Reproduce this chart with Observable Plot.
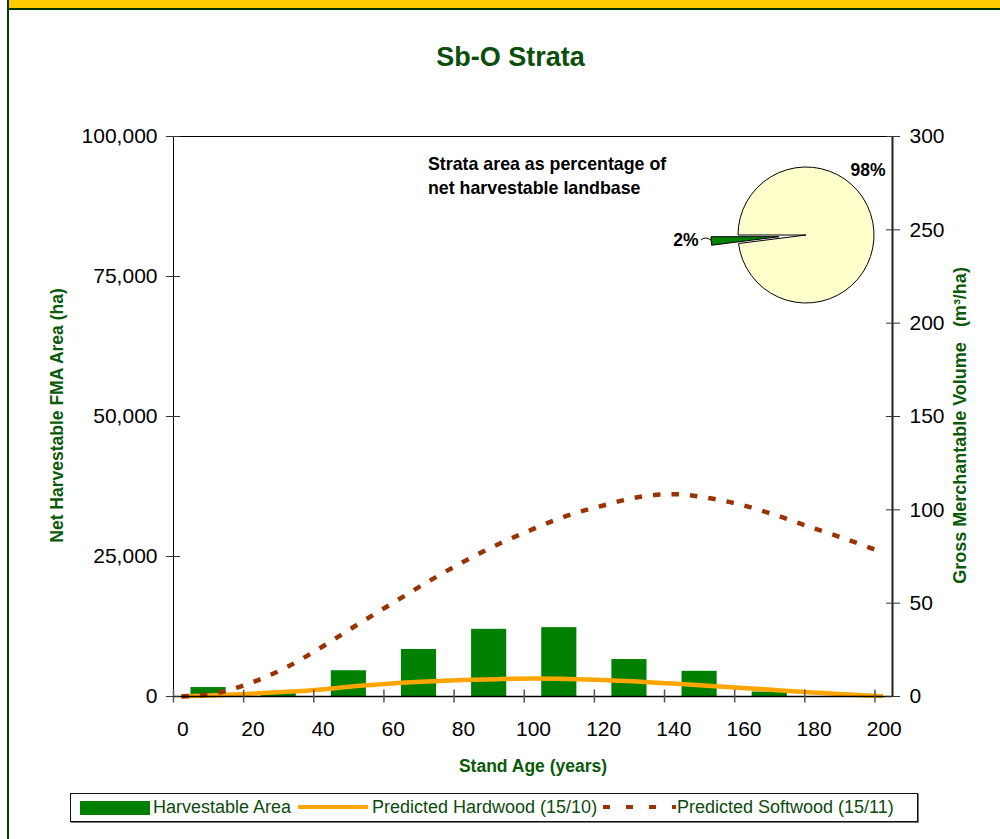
<!DOCTYPE html>
<html>
<head>
<meta charset="utf-8">
<script src="https://cdn.jsdelivr.net/npm/d3@7"></script>
<script src="https://cdn.jsdelivr.net/npm/@observablehq/plot@0.6"></script>
<style>
  html, body { margin:0; padding:0; background:#fff; }
  #page { position:relative; width:1000px; height:839px; overflow:hidden; font-family:"Liberation Sans", Arial, Helvetica, sans-serif; }
  #page > svg { position:absolute; left:0; top:0; }
  .abs { position:absolute; }
  #bar-top { left:9px; top:0; width:991px; height:8px; background:#FFCC00; }
  #line-top { left:7px; top:8px; width:993px; height:2px; background:#003300; }
  #line-left { left:7px; top:0; width:2px; height:839px; background:#0a3a0a; }
  #title { left:0; top:44px; width:1021px; text-align:center; font-size:27px; line-height:27px; font-weight:bold; color:#0b4d0b; }
  #legend { left:70px; top:793px; width:846px; height:27px; border:1px solid #111; box-shadow:1px 1px 0 #777; background:#fff; }
  .lg-text { position:absolute; top:4px; font-size:18px; line-height:18px; color:#0d4a0d; white-space:nowrap; }
  .lg-sw { position:absolute; }
</style>
</head>
<body>
<div id="page">
  <div class="abs" id="bar-top"></div>
  <div class="abs" id="line-top"></div>
  <div class="abs" id="line-left"></div>
  <div class="abs" id="title"></div>
  <div class="abs" id="legend"></div>
</div>
<script>
// ---------- data ----------
const chartTitle = "Sb-O Strata";
const xTitle = "Stand Age (years)";
const yLeftTitle = "Net Harvestable FMA Area (ha)";
const yRightTitle = "Gross Merchantable Volume\u00A0\u00A0\u00A0(m\u00B3/ha)";
const noteLines = ["Strata area as percentage of", "net harvestable landbase"];

// harvestable area by 20-year age class (class start, ha)
const classStart = [0, 20, 40, 60, 80, 100, 120, 140, 160, 180];
const classWidth = 20;
const areaHa = [1600, 700, 4600, 8400, 12000, 12300, 6600, 4500, 800, 0];

// yield curves (m3/ha) by stand age
const lineAges = [0, 10, 20, 30, 40, 50, 60, 70, 80, 90, 100, 110, 120, 130, 140, 150, 160, 170, 180, 190, 200];
const hardwood = [0.1, 0.7, 1.5, 2.5, 3.8, 5.6, 7.0, 8.0, 8.8, 9.3, 9.6, 9.4, 8.9, 8.0, 6.9, 5.8, 4.6, 3.4, 2.2, 1.1, 0.2];
const softwood = [0, 1.8, 7.5, 15.7, 26.5, 38.3, 49.8, 61.2, 71.8, 81.3, 89.5, 96.9, 102.2, 106.7, 108.4, 106.4, 102.5, 96.8, 90.3, 84.0, 77.0];

// axes
const xTicks = [0, 20, 40, 60, 80, 100, 120, 140, 160, 180, 200];
const xMax = 205;
const leftTicks = [0, 25000, 50000, 75000, 100000];
const rightTicks = [0, 50, 100, 150, 200, 250, 300];
const leftMax = 100000, rightMax = 300;

// pie
const pieShares = [2, 98];
const pieLabels = ["2%", "98%"];
const pieFills = ["#008000", "#FFFFCC"];

// legend
const legendItems = ["Harvestable Area", "Predicted Hardwood (15/10)", "Predicted Softwood (15/11)"];

// ---------- styles ----------
const FONT = '"Liberation Sans", Arial, Helvetica, sans-serif';
const GREEN_TXT = "#0a5a0a";
const BAR = "#008000", HW = "#FFA500", SW = "#993300";
const volToHa = leftMax / rightMax;

const bars = classStart.map((s, i) => ({s, e: s + classWidth, a: areaHa[i]}));
const hw = lineAges.map((a, i) => ({a, v: hardwood[i]}));
const sw = lineAges.map((a, i) => ({a, v: softwood[i]}));

function pieMark() {
  const g = d3.create("svg:g").attr("text-anchor", "start");
  const cx = 806, cy = 235, r = 68, explode = 27;
  const total = d3.sum(pieShares);
  const small = pieShares[0] / total * 2 * Math.PI;
  const start = 1.5 * Math.PI - small;
  const arcs = d3.pie().sort(null).startAngle(start).endAngle(start + 2 * Math.PI)(pieShares);
  const arc = d3.arc().innerRadius(0).outerRadius(r);
  [1, 0].forEach(i => {
    const a = arcs[i];
    const off = i === 0 ? explode : 0;
    const mid = (a.startAngle + a.endAngle) / 2;
    const tx = cx + off * Math.sin(mid), ty = cy - off * Math.cos(mid);
    g.append("path").attr("d", arc(a)).attr("transform", `translate(${tx},${ty})`)
      .attr("fill", pieFills[i]).attr("stroke", "#000").attr("stroke-width", 1).attr("stroke-linejoin", "round");
  });
  g.append("text").attr("x", 868).attr("y", 176).attr("text-anchor", "middle")
    .attr("font-weight", "bold").attr("font-size", 17.5).attr("fill", "#000").text(pieLabels[1]);
  g.append("text").attr("x", 686).attr("y", 246).attr("text-anchor", "middle")
    .attr("font-weight", "bold").attr("font-size", 17.5).attr("fill", "#000").text(pieLabels[0]);
  g.append("path").attr("d", "M701,240 q4,-4 10,0").attr("fill", "none").attr("stroke", "#000").attr("stroke-width", 1);
  noteLines.forEach((t, k) => {
    g.append("text").attr("x", 428).attr("y", 169.5 + k * 24).attr("text-anchor", "start").attr("font-weight", "bold")
      .attr("font-size", 17.8).attr("fill", "#000").text(t);
  });
  return g.node();
}

const chart = Plot.plot({
  width: 1000, height: 839,
  marginLeft: 173, marginRight: 108, marginTop: 136, marginBottom: 143,
  x: {domain: [0, xMax]},
  y: {domain: [0, leftMax]},
  style: {fontFamily: FONT, fontSize: "21px", background: "transparent", color: "#000", overflow: "visible"},
  marks: [
    Plot.rectY(bars, {x1: "s", x2: "e", y1: 0, y2: "a", fill: BAR, insetLeft: 17.5, insetRight: 17.5}),
    Plot.line(hw, {x: "a", y: d => d.v * volToHa, stroke: HW, strokeWidth: 4.5, curve: "catmull-rom", dx: 8, strokeLinecap: "butt"}),
    Plot.line(sw, {x: "a", y: d => d.v * volToHa, stroke: SW, strokeWidth: 4.5, strokeDasharray: "7.5,11", curve: "catmull-rom", dx: 8, strokeLinecap: "butt"}),
    Plot.frame({stroke: "#000", strokeWidth: 1}),
    Plot.ruleY([0], {stroke: "#000", strokeWidth: 1.5}),
    Plot.ruleX([xMax], {stroke: "#222", strokeWidth: 2}),
    Plot.axisX({ticks: xTicks, tickSize: 13, dy: -6.5, fill: "none", stroke: "#555", strokeWidth: 1.5, label: null}),
    Plot.axisX({ticks: xTicks, tickSize: 0, tickPadding: 25, dx: 9.3, tickFormat: d => `${d}`, label: null}),
    Plot.axisY({anchor: "left", ticks: leftTicks, tickFormat: d3.format(","), tickSize: 14, tickPadding: 9, dx: 7, label: null, stroke: "#333"}),
    Plot.axisY({anchor: "right", ticks: rightTicks.map(v => v * volToHa), tickFormat: d => `${Math.round(d / volToHa)}`, tickSize: 14, tickPadding: 10, dx: -7, label: null, stroke: "#333"}),
    Plot.text([yLeftTitle], {text: d => d, frameAnchor: "left", textAnchor: "middle", dx: -116, dy: -1, rotate: -90, fontWeight: "bold", fontSize: 17.5, fill: GREEN_TXT}),
    Plot.text([yRightTitle], {text: d => d, frameAnchor: "right", textAnchor: "middle", dx: 68, dy: 9, rotate: -90, fontWeight: "bold", fontSize: 18, fill: GREEN_TXT}),
    Plot.text([xTitle], {text: d => d, frameAnchor: "bottom", textAnchor: "middle", dy: 75, fontWeight: "bold", fontSize: 17.5, fill: GREEN_TXT}),
    pieMark
  ]
});
document.getElementById("page").appendChild(chart);
document.getElementById("title").textContent = chartTitle;

// legend
const lg = document.getElementById("legend");
const sw1 = document.createElement("div");
sw1.className = "lg-sw";
Object.assign(sw1.style, {left: "9px", top: "7px", width: "70px", height: "14px", background: BAR});
lg.appendChild(sw1);
const sw2 = document.createElement("div");
sw2.className = "lg-sw";
Object.assign(sw2.style, {left: "227px", top: "11px", width: "70px", height: "4px", background: HW});
lg.appendChild(sw2);
const sw3 = d3.create("svg").attr("class", "lg-sw").attr("width", 73).attr("height", 14)
  .style("left", "532px").style("top", "6px");
sw3.append("line").attr("x1", 0).attr("x2", 73).attr("y1", 7).attr("y2", 7)
  .attr("stroke", SW).attr("stroke-width", 4).attr("stroke-dasharray", "7,16");
lg.appendChild(sw3.node());
[82, 301, 606].forEach((left, i) => {
  const t = document.createElement("div");
  t.className = "lg-text";
  t.style.left = left + "px";
  t.textContent = legendItems[i];
  lg.appendChild(t);
});
</script>
</body>
</html>
